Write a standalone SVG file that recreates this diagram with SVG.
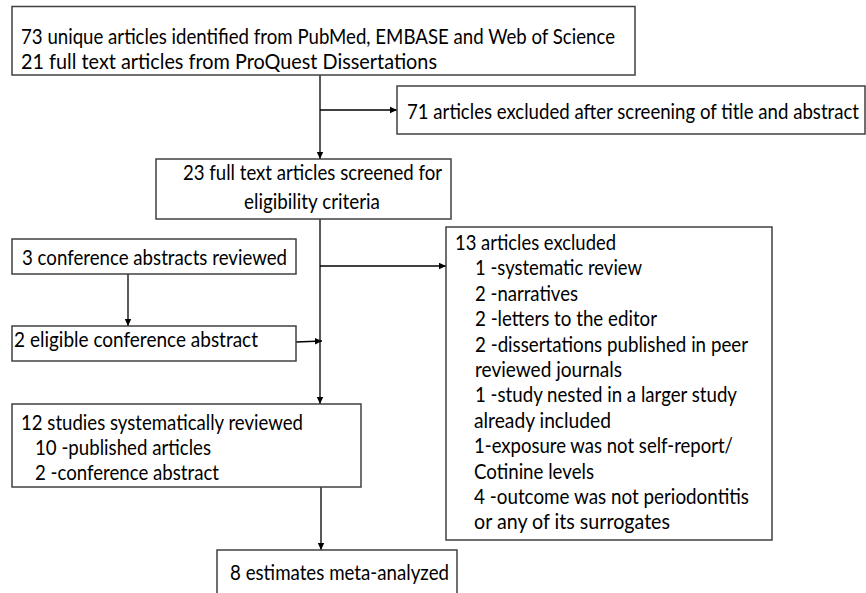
<svg xmlns="http://www.w3.org/2000/svg" width="866" height="593" viewBox="0 0 866 593">
<style>
.box{fill:#fff;stroke:#404040;stroke-width:1.5}
.t{font-family:Lato,"Open Sans","Liberation Sans",sans-serif;font-size:20.5px;fill:#000}
.ln{fill:none;stroke:#000;stroke-width:1.3}
</style>
<defs>
<marker id="ah" markerWidth="8" markerHeight="8" refX="7" refY="4" orient="auto" markerUnits="userSpaceOnUse">
<path d="M0,0.8 L7,4 L0,7.2 Z" fill="#000"/>
</marker>
</defs>
<rect width="866" height="593" fill="#fff"/>
<g id="connectors">
<line class="ln" x1="320" y1="75" x2="320" y2="159" marker-end="url(#ah)"/>
<line class="ln" x1="320" y1="110" x2="397" y2="110" marker-end="url(#ah)"/>
<line class="ln" x1="320" y1="219" x2="320" y2="404" marker-end="url(#ah)"/>
<line class="ln" x1="320" y1="266" x2="446" y2="266" marker-end="url(#ah)"/>
<line class="ln" x1="128" y1="274" x2="128" y2="326" marker-end="url(#ah)"/>
<line class="ln" x1="296" y1="342" x2="322" y2="341" marker-end="url(#ah)"/>
<line class="ln" x1="321" y1="487" x2="321" y2="550" marker-end="url(#ah)"/>
</g>
<g id="n1">
<rect class="box" x="12" y="6.5" width="623" height="68.5"/>
<text class="t" x="21" y="44" textLength="594" lengthAdjust="spacingAndGlyphs">73 unique articles identified from PubMed, EMBASE and Web of Science</text>
<text class="t" x="21" y="69" textLength="416" lengthAdjust="spacingAndGlyphs">21 full text articles from ProQuest Dissertations</text>
</g>
<g id="n2">
<rect class="box" x="397" y="86" width="468" height="48"/>
<text class="t" x="407" y="119" textLength="452" lengthAdjust="spacingAndGlyphs">71 articles excluded after screening of title and abstract</text>
</g>
<g id="n3">
<rect class="box" x="156" y="159" width="295" height="60"/>
<text class="t" x="183" y="180" textLength="259" lengthAdjust="spacingAndGlyphs">23 full text articles screened for</text>
<text class="t" x="244" y="209" textLength="136" lengthAdjust="spacingAndGlyphs">eligibility criteria</text>
</g>
<g id="n4">
<rect class="box" x="12" y="239" width="284" height="35"/>
<text class="t" x="22" y="265" textLength="265" lengthAdjust="spacingAndGlyphs">3 conference abstracts reviewed</text>
</g>
<g id="n5">
<rect class="box" x="12" y="326" width="284" height="35"/>
<text class="t" x="14" y="347" textLength="244" lengthAdjust="spacingAndGlyphs">2 eligible conference abstract</text>
</g>
<g id="n6">
<rect class="box" x="446" y="227" width="326" height="313"/>
<text class="t" x="455" y="250" textLength="161" lengthAdjust="spacingAndGlyphs">13 articles excluded</text>
<text class="t" x="475" y="275.4" textLength="167" lengthAdjust="spacingAndGlyphs">1 -systematic review</text>
<text class="t" x="475" y="300.8" textLength="103" lengthAdjust="spacingAndGlyphs">2 -narratives</text>
<text class="t" x="475" y="326.2" textLength="182" lengthAdjust="spacingAndGlyphs">2 -letters to the editor</text>
<text class="t" x="475" y="351.6" textLength="273" lengthAdjust="spacingAndGlyphs">2 -dissertations published in peer</text>
<text class="t" x="475" y="377" textLength="147" lengthAdjust="spacingAndGlyphs">reviewed journals</text>
<text class="t" x="475" y="402.4" textLength="262" lengthAdjust="spacingAndGlyphs">1 -study nested in a larger study</text>
<text class="t" x="474" y="427.8" textLength="137" lengthAdjust="spacingAndGlyphs">already included</text>
<text class="t" x="474" y="453.2" textLength="259" lengthAdjust="spacingAndGlyphs">1-exposure was not self-report/</text>
<text class="t" x="474" y="478.6" textLength="120" lengthAdjust="spacingAndGlyphs">Cotinine levels</text>
<text class="t" x="474" y="504" textLength="275" lengthAdjust="spacingAndGlyphs">4 -outcome was not periodontitis</text>
<text class="t" x="474" y="529.4" textLength="196" lengthAdjust="spacingAndGlyphs">or any of its surrogates</text>
</g>
<g id="n7">
<rect class="box" x="12" y="404" width="349" height="83"/>
<text class="t" x="21" y="430" textLength="282" lengthAdjust="spacingAndGlyphs">12 studies systematically reviewed</text>
<text class="t" x="35" y="455" textLength="176" lengthAdjust="spacingAndGlyphs">10 -published articles</text>
<text class="t" x="35" y="480" textLength="184" lengthAdjust="spacingAndGlyphs">2 -conference abstract</text>
</g>
<g id="n8">
<rect class="box" x="217" y="550" width="240" height="60"/>
<text class="t" x="230" y="580" textLength="219" lengthAdjust="spacingAndGlyphs">8 estimates meta-analyzed</text>
</g>
</svg>
